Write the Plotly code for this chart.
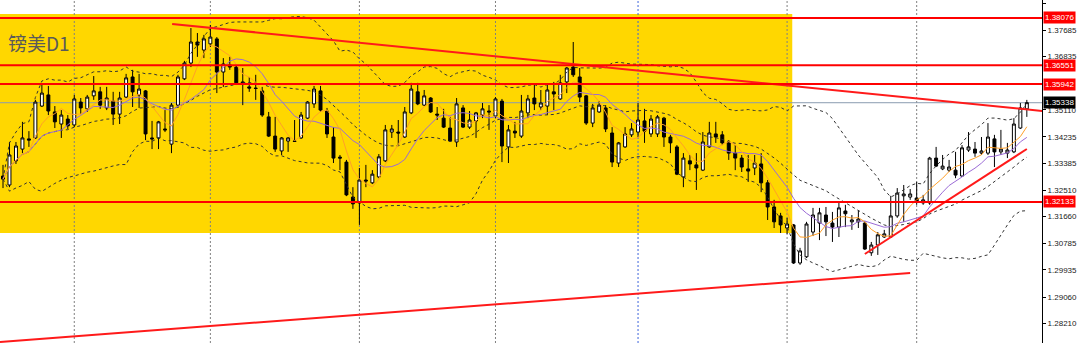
import plotly.graph_objects as go
import pandas as pd

# ---- candle data (GBPUSD D1) ----
opens = [1.3297,1.3268,1.3346,1.3384,1.3417,1.3420,1.3523,1.3559,1.3504,1.3465,
         1.3481,1.3462,1.3536,1.3514,1.3556,1.3569,1.3517,1.3539,1.3497,1.3552,
         1.3617,1.3559,1.3572,1.3420,1.3420,1.3449,1.3400,1.3526,1.3611,1.3662,
         1.3730,1.3704,1.3724,1.3740,1.3633,1.3656,1.3649,1.3601,1.3585,1.3581,
         1.3572,1.3488,1.3426,1.3378,1.3410,1.3410,1.3420,1.3484,1.3530,1.3572,
         1.3507,1.3423,1.3358,1.3342,1.3229,1.3210,1.3284,1.3275,1.3294,1.3346,
         1.3439,1.3439,1.3423,1.3501,1.3569,1.3526,1.3549,1.3497,1.3484,1.3452,
         1.3407,1.3517,1.3455,1.3475,1.3494,1.3507,1.3491,1.3539,1.3391,1.3442,
         1.3426,1.3501,1.3549,1.3520,1.3523,1.3569,1.3546,1.3601,1.3649,1.3617,
         1.3556,1.3468,1.3504,1.3517,1.3436,1.3339,1.3391,1.3430,1.3439,1.3475,
         1.3433,1.3433,1.3484,1.3423,1.3391,1.3294,1.3346,1.3333,1.3316,1.3391,
         1.3433,1.3430,1.3407,1.3371,1.3355,1.3320,1.3323,1.3336,1.3275,1.3197,
         1.3168,1.3129,1.3139,1.3016,1.3036,1.3116,1.3145,1.3171,1.3145,1.3132,
         1.3184,1.3149,1.3149,1.3145,1.3049,1.3074,1.3100,1.3100,1.3168,1.3233,
         1.3229,1.3226,1.3210,1.3210,1.3355,1.3320,1.3316,1.3316,1.3297,1.3381,
         1.3384,1.3371,1.3371,1.3417,1.3375,1.3371,1.3375,1.3452,1.3514]
highs = [1.3333,1.3407,1.3407,1.3472,1.3442,1.3543,1.3594,1.3588,1.3523,1.3510,
         1.3494,1.3559,1.3549,1.3559,1.3620,1.3585,1.3585,1.3569,1.3569,1.3627,
         1.3640,1.3627,1.3575,1.3475,1.3475,1.3510,1.3533,1.3624,1.3669,1.3775,
         1.3759,1.3753,1.3785,1.3746,1.3678,1.3682,1.3653,1.3646,1.3617,1.3624,
         1.3585,1.3504,1.3488,1.3423,1.3423,1.3478,1.3504,1.3539,1.3588,1.3588,
         1.3517,1.3455,1.3365,1.3349,1.3261,1.3323,1.3333,1.3316,1.3368,1.3462,
         1.3462,1.3478,1.3520,1.3598,1.3598,1.3575,1.3552,1.3520,1.3514,1.3488,
         1.3549,1.3526,1.3507,1.3504,1.3533,1.3526,1.3552,1.3546,1.3462,1.3472,
         1.3559,1.3559,1.3594,1.3575,1.3591,1.3601,1.3624,1.3649,1.3730,1.3646,
         1.3559,1.3530,1.3539,1.3526,1.3455,1.3407,1.3455,1.3468,1.3533,1.3514,
         1.3494,1.3494,1.3488,1.3430,1.3397,1.3371,1.3365,1.3371,1.3439,1.3472,
         1.3472,1.3442,1.3413,1.3397,1.3365,1.3365,1.3365,1.3371,1.3284,1.3220,
         1.3178,1.3162,1.3142,1.3065,1.3149,1.3194,1.3194,1.3197,1.3181,1.3216,
         1.3204,1.3171,1.3187,1.3152,1.3084,1.3116,1.3123,1.3233,1.3258,1.3268,
         1.3255,1.3278,1.3236,1.3359,1.3391,1.3365,1.3349,1.3375,1.3397,1.3439,
         1.3407,1.3423,1.3468,1.3430,1.3446,1.3404,1.3484,1.3533,1.3543]
lows = [1.3258,1.3261,1.3336,1.3371,1.3391,1.3417,1.3520,1.3494,1.3452,1.3420,
        1.3449,1.3455,1.3497,1.3504,1.3543,1.3514,1.3510,1.3462,1.3465,1.3549,
        1.3520,1.3517,1.3413,1.3384,1.3384,1.3439,1.3371,1.3517,1.3607,1.3649,
        1.3682,1.3678,1.3714,1.3565,1.3585,1.3640,1.3591,1.3526,1.3569,1.3543,
        1.3488,1.3423,1.3375,1.3365,1.3375,1.3407,1.3417,1.3481,1.3517,1.3504,
        1.3420,1.3339,1.3316,1.3232,1.3191,1.3139,1.3261,1.3271,1.3290,1.3342,
        1.3420,1.3397,1.3420,1.3497,1.3526,1.3523,1.3501,1.3478,1.3452,1.3407,
        1.3391,1.3452,1.3449,1.3420,1.3484,1.3446,1.3484,1.3342,1.3339,1.3420,
        1.3420,1.3484,1.3510,1.3510,1.3494,1.3510,1.3543,1.3565,1.3617,1.3536,
        1.3462,1.3455,1.3501,1.3439,1.3326,1.3326,1.3388,1.3423,1.3423,1.3404,
        1.3423,1.3423,1.3391,1.3371,1.3300,1.3261,1.3316,1.3252,1.3313,1.3388,
        1.3404,1.3397,1.3349,1.3316,1.3310,1.3278,1.3300,1.3245,1.3155,1.3129,
        1.3113,1.3110,1.3013,1.3010,1.3032,1.3103,1.3090,1.3103,1.3084,1.3100,
        1.3132,1.3123,1.3129,1.3058,1.3039,1.3042,1.3097,1.3097,1.3162,1.3149,
        1.3220,1.3204,1.3204,1.3204,1.3326,1.3316,1.3310,1.3290,1.3294,1.3375,
        1.3359,1.3365,1.3365,1.3326,1.3365,1.3355,1.3371,1.3449,1.3488]
closes = [1.3287,1.3365,1.3394,1.3420,1.3413,1.3536,1.3565,1.3507,1.3472,1.3494,
          1.3459,1.3546,1.3517,1.3552,1.3572,1.3526,1.3549,1.3497,1.3549,1.3614,
          1.3569,1.3578,1.3433,1.3417,1.3472,1.3446,1.3526,1.3617,1.3662,1.3730,
          1.3720,1.3740,1.3746,1.3633,1.3659,1.3649,1.3598,1.3594,1.3581,1.3580,
          1.3494,1.3426,1.3384,1.3420,1.3420,1.3409,1.3494,1.3536,1.3578,1.3510,
          1.3433,1.3355,1.3355,1.3236,1.3207,1.3284,1.3281,1.3303,1.3359,1.3446,
          1.3449,1.3436,1.3504,1.3578,1.3530,1.3556,1.3504,1.3494,1.3455,1.3410,
          1.3530,1.3455,1.3478,1.3501,1.3514,1.3504,1.3546,1.3394,1.3446,1.3436,
          1.3507,1.3546,1.3530,1.3533,1.3575,1.3562,1.3598,1.3646,1.3624,1.3552,
          1.3468,1.3517,1.3526,1.3449,1.3342,1.3404,1.3433,1.3449,1.3478,1.3442,
          1.3481,1.3488,1.3423,1.3404,1.3303,1.3355,1.3336,1.3323,1.3407,1.3436,
          1.3423,1.3404,1.3371,1.3355,1.3326,1.3313,1.3339,1.3275,1.3197,1.3149,
          1.3139,1.3142,1.3016,1.3055,1.3142,1.3171,1.3178,1.3149,1.3132,1.3194,
          1.3175,1.3155,1.3158,1.3061,1.3074,1.3107,1.3110,1.3168,1.3242,1.3239,
          1.3239,1.3216,1.3220,1.3355,1.3329,1.3329,1.3326,1.3300,1.3388,1.3391,
          1.3371,1.3378,1.3423,1.3375,1.3384,1.3381,1.3465,1.3517,1.3534]

candle_idx = list(range(len(closes)))

# ---- axis / levels ----
y_min, y_max = 1.27575, 1.38657
ytick_vals = [1.38560, 1.37685, 1.36835, 1.35110, 1.34235, 1.33385,
              1.32510, 1.31660, 1.30785, 1.29935, 1.29060, 1.28210]
ytick_text = [f"{v:.5f}" for v in ytick_vals]
red_levels = [1.38076, 1.36551, 1.35942, 1.32133]
bid_level = 1.35338

# yellow consolidation zone
zone_x = [-1.0, 121.8]
zone_y = [1.3113, 1.38205]

# trendlines (index, price)
trend_down_x, trend_down_y = [26.1, 160.4], [1.37882, 1.35071]
trend_low_x, trend_low_y = [-0.46, 140.0], [1.27607, 1.29836]
trend_up_x, trend_up_y = [133.0, 158.0], [1.30450, 1.33843]

# period separators (candle index)
sep_gray = [11, 32, 55, 76, 121, 141]
sep_blue = [98]

x_range = [-0.463, 160.34]

# ---- indicators ----
cs = pd.Series(closes)
ma5 = cs.rolling(5, min_periods=1).mean()
ma10 = cs.rolling(10, min_periods=1).mean()
bb_mid = cs.rolling(20, min_periods=1).mean()
bb_std = cs.rolling(20, min_periods=1).std(ddof=0)
bb_up = bb_mid + 2 * bb_std
bb_lo = bb_mid - 2 * bb_std

fig = go.Figure()

fig.add_trace(go.Candlestick(
    x=candle_idx, open=opens, high=highs, low=lows, close=closes,
    increasing=dict(line=dict(color="black", width=1), fillcolor="white"),
    decreasing=dict(line=dict(color="black", width=1), fillcolor="black"),
    whiskerwidth=0, hoverinfo="skip", showlegend=False))

for s in (bb_up, bb_mid, bb_lo):
    fig.add_trace(go.Scatter(x=candle_idx, y=s, mode="lines",
                             line=dict(color="#333333", width=1, dash="3px,3px"),
                             hoverinfo="skip", showlegend=False))
fig.add_trace(go.Scatter(x=candle_idx, y=ma10, mode="lines",
                         line=dict(color="#9b6bd6", width=1),
                         hoverinfo="skip", showlegend=False))
fig.add_trace(go.Scatter(x=candle_idx, y=ma5, mode="lines",
                         line=dict(color="#ffa028", width=1),
                         hoverinfo="skip", showlegend=False))

for tx, ty in ((trend_down_x, trend_down_y), (trend_low_x, trend_low_y), (trend_up_x, trend_up_y)):
    fig.add_trace(go.Scatter(x=tx, y=ty, mode="lines",
                             line=dict(color="#ff1a1a", width=2),
                             hoverinfo="skip", showlegend=False))

shapes = []
shapes.append(dict(type="rect", xref="x", yref="y", x0=zone_x[0], x1=zone_x[1],
                   y0=zone_y[0], y1=zone_y[1], fillcolor="#FFD700",
                   line=dict(width=0), layer="below"))
for sx in sep_gray:
    shapes.append(dict(type="line", xref="x", yref="y", x0=sx, x1=sx, y0=y_min, y1=y_max,
                       line=dict(color="#808080", width=1, dash="2px,2px"), layer="below"))
for sx in sep_blue:
    shapes.append(dict(type="line", xref="x", yref="y", x0=sx, x1=sx, y0=y_min, y1=y_max,
                       line=dict(color="#3c64dc", width=1, dash="2px,2px"), layer="below"))
shapes.append(dict(type="line", xref="x", yref="y", x0=x_range[0], x1=x_range[1],
                   y0=bid_level, y1=bid_level,
                   line=dict(color="#8a9bb0", width=1), layer="below"))
for lv in red_levels:
    shapes.append(dict(type="line", xref="paper", yref="y", x0=0, x1=1, y0=lv, y1=lv,
                       line=dict(color="#ff0000", width=2), layer="above"))

annotations = []
for lv in red_levels:
    annotations.append(dict(xref="paper", yref="y", x=1, y=lv, xanchor="left", yanchor="middle",
                            xshift=1, text=f"{lv:.5f}", showarrow=False, bgcolor="#ff0000",
                            font=dict(color="white", size=8, family="Liberation Sans"),
                            borderpad=1))
annotations.append(dict(xref="paper", yref="y", x=1, y=bid_level, xanchor="left", yanchor="middle",
                        xshift=1, text=f"{bid_level:.5f}", showarrow=False, bgcolor="#000000",
                        font=dict(color="white", size=8, family="Liberation Sans"),
                        borderpad=1))
annotations.append(dict(xref="paper", yref="paper", x=0, y=1, xanchor="left", yanchor="middle",
                        xshift=6, yshift=-42, text="镑美D1", showarrow=False,
                        font=dict(color="#5a5a5a", size=19, family="Noto Sans CJK SC")))

fig.update_layout(
    width=1080, height=343,
    margin=dict(l=0, r=38, t=0, b=0),
    paper_bgcolor="white", plot_bgcolor="white",
    shapes=shapes, annotations=annotations,
    showlegend=False,
    xaxis=dict(range=x_range, showgrid=False, zeroline=False, showticklabels=False,
               rangeslider=dict(visible=False), fixedrange=True),
    yaxis=dict(range=[y_min, y_max], side="right", showgrid=False, zeroline=False,
               tickvals=ytick_vals, ticktext=ytick_text, ticks="outside", ticklen=3,
               tickcolor="black", showline=True, linecolor="black", linewidth=1,
               tickfont=dict(size=8, color="#222222", family="Liberation Sans"),
               fixedrange=True),
    boxgap=0.35,
)

fig.write_html("out.html")
